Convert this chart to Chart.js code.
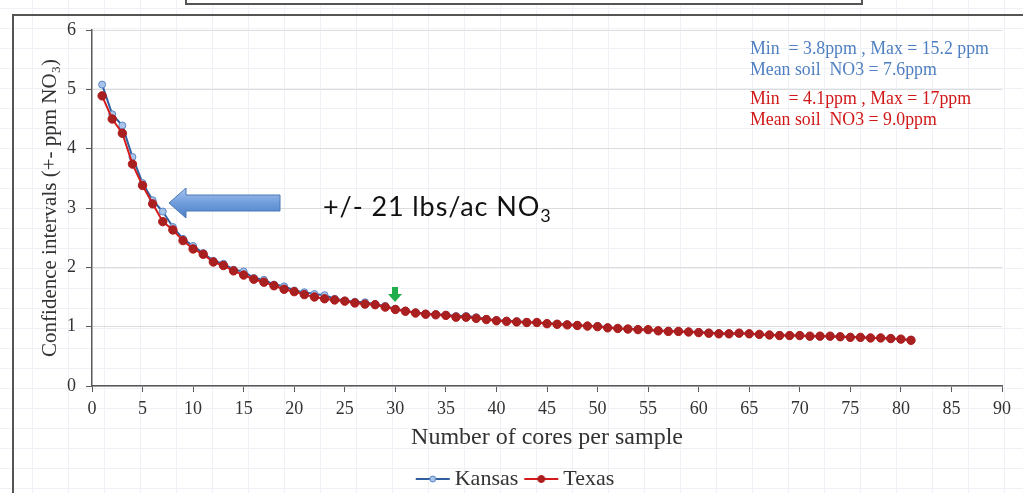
<!DOCTYPE html>
<html>
<head>
<meta charset="utf-8">
<script src="https://cdn.jsdelivr.net/npm/chart.js@4.4.1/dist/chart.umd.min.js"></script>
<style>
  html, body { margin: 0; padding: 0; }
  body {
    width: 1023px; height: 493px; position: relative; overflow: hidden; background: #fff;
    background-image: linear-gradient(#eef1f6 1px, transparent 1px), linear-gradient(90deg, #eef1f6 1px, transparent 1px);
    background-size: 36px 20px;
    background-position: -4px 8px;
  }
  #frame { position: absolute; left: 12px; top: 14px; width: 1030px; height: 500px; border: 2px solid #555; box-sizing: border-box; }
  #titlebox { position: absolute; left: 185px; top: -12px; width: 678px; height: 17px; border: 2px solid #555; box-sizing: border-box; background: #fff; }
  #wrap { position: absolute; left: 0; top: 0; width: 1023px; height: 493px; }
  .note { position: absolute; font-family: "Liberation Serif", serif; font-size: 17.8px; line-height: 21px; white-space: pre; }
  .ks { color: #4f7fc0; left: 750px; top: 38px; }
  .tx { color: #d01818; left: 750px; top: 88px; }
  #big { position: absolute; left: 323px; top: 189px; font-family: Lato, "Open Sans", sans-serif; font-size: 27px; letter-spacing: 0.9px; color: #111; white-space: nowrap; }
  #big sub { font-size: 18px; vertical-align: -6px; }
  svg { position: absolute; left: 0; top: 0; }
</style>
</head>
<body>
<div id="frame"></div>
<div id="titlebox"></div>
<div id="wrap"><canvas id="chart" width="1023" height="493"></canvas></div>

<svg width="1023" height="493">
  <defs>
    <linearGradient id="bl" x1="0" y1="0" x2="0" y2="1">
      <stop offset="0" stop-color="#a9c6ee"/>
      <stop offset="0.5" stop-color="#6f9ddc"/>
      <stop offset="1" stop-color="#4d7fc4"/>
    </linearGradient>
  </defs>
  <polygon points="169,203 186,188 186,195 280,195 280,211 186,211 186,218" fill="url(#bl)" stroke="#4a78b8" stroke-width="1"/>
  <polygon points="392,287 398,287 398,294 402,294 395,302 388,294 392,294" fill="#1fae4a"/>
</svg>

<div class="note ks">Min  = 3.8ppm , Max = 15.2 ppm
Mean soil  NO3 = 7.6ppm</div>
<div class="note tx">Min  = 4.1ppm , Max = 17ppm
Mean soil  NO3 = 9.0ppm</div>
<div id="big">+/- 21 lbs/ac NO<sub>3</sub></div>

<script>
// number of cores per sample (x)
const cores = [1,2,3,4,5,6,7,8,9,10,11,12,13,14,15,16,17,18,19,20,
  21,22,23,24,25,26,27,28,29,30,31,32,33,34,35,36,37,38,39,40,
  41,42,43,44,45,46,47,48,49,50,51,52,53,54,55,56,57,58,59,60,
  61,62,63,64,65,66,67,68,69,70,71,72,73,74,75,76,77,78,79,80,81];

// confidence interval (+- ppm NO3)
const kansas = [5.08,4.58,4.39,3.86,3.42,3.13,2.94,2.68,2.48,2.36,
  2.24,2.11,2.06,1.96,1.93,1.82,1.79,1.71,1.68,1.61,
  1.58,1.55,1.53,1.47,1.44,1.42,1.41,1.38,1.35,1.30,
  1.27,1.24,1.22,1.21,1.20,1.18,1.18,1.16,1.13,1.11,
  1.10,1.09,1.08,1.07,1.06,1.05,1.04,1.03,1.01,1.01,
  0.99,0.97,0.96,0.96,0.95,0.93,0.93,0.92,0.92,0.91,
  0.90,0.89,0.88,0.89,0.88,0.87,0.86,0.86,0.85,0.85,
  0.84,0.84,0.84,0.83,0.83,0.82,0.81,0.81,0.80,0.79,0.78];

const texas = [4.89,4.50,4.26,3.74,3.38,3.07,2.77,2.63,2.45,2.31,
  2.22,2.09,2.03,1.94,1.87,1.80,1.75,1.69,1.63,1.59,
  1.54,1.50,1.47,1.45,1.43,1.40,1.38,1.37,1.33,1.29,
  1.26,1.23,1.21,1.20,1.19,1.16,1.16,1.14,1.12,1.10,
  1.09,1.08,1.07,1.07,1.05,1.04,1.03,1.02,1.01,1.00,
  0.98,0.97,0.96,0.95,0.95,0.93,0.92,0.92,0.91,0.90,
  0.89,0.88,0.88,0.89,0.88,0.87,0.86,0.85,0.85,0.85,
  0.84,0.84,0.84,0.83,0.82,0.82,0.81,0.81,0.80,0.79,0.77];

const seriesNames = ["Kansas", "Texas"];

const KS_LINE = "#2f5f9e", KS_FILL = "#a8c4ea", KS_EDGE = "#5a86c4";
const TX_LINE = "#d41a1a", TX_FILL = "#a82020", TX_EDGE = "#b01818";

// little line+marker image for the legend
function legendMark(line, fill, edge, r) {
  const c = document.createElement("canvas");
  c.width = 36; c.height = 12;
  const g = c.getContext("2d");
  g.strokeStyle = line; g.lineWidth = 2;
  g.beginPath(); g.moveTo(1, 6); g.lineTo(35, 6); g.stroke();
  g.fillStyle = fill; g.strokeStyle = edge; g.lineWidth = 1;
  g.beginPath(); g.arc(18, 6, r, 0, Math.PI * 2); g.fill(); g.stroke();
  return c;
}

const serif = "'Liberation Serif', 'Times New Roman', serif";
const toXY = (arr) => arr.map((v, i) => ({ x: cores[i], y: v }));

new Chart(document.getElementById("chart"), {
  type: "line",
  data: {
    datasets: [
      {
        label: seriesNames[0],
        data: toXY(kansas),
        borderColor: KS_LINE, borderWidth: 2,
        pointBackgroundColor: KS_FILL, pointBorderColor: KS_EDGE, pointBorderWidth: 1,
        pointRadius: 3.5, tension: 0, order: 2,
      },
      {
        label: seriesNames[1],
        data: toXY(texas),
        borderColor: TX_LINE, borderWidth: 2,
        pointBackgroundColor: TX_FILL, pointBorderColor: TX_EDGE, pointBorderWidth: 1,
        pointRadius: 4.2, tension: 0, order: 1,
      },
    ],
  },
  options: {
    responsive: false,
    animation: false,
    layout: { padding: { left: 34, top: 30, right: 21, bottom: -7 } },
    plugins: {
      tooltip: { enabled: false },
      legend: {
        position: "bottom",
        labels: {
          usePointStyle: true,
          color: "#333",
          font: { family: serif, size: 22 },
          padding: 12,
          generateLabels: () => [
            { text: seriesNames[0], pointStyle: legendMark(KS_LINE, KS_FILL, KS_EDGE, 3), datasetIndex: 0, fontColor: "#333" },
            { text: seriesNames[1], pointStyle: legendMark(TX_LINE, TX_FILL, TX_EDGE, 3.5), datasetIndex: 1, fontColor: "#333" },
          ],
        },
      },
    },
    scales: {
      x: {
        type: "linear", min: 0, max: 90,
        afterFit: (s) => { s.height = 70; },
        ticks: { stepSize: 5, color: "#333", padding: 6, font: { family: serif, size: 18 } },
        grid: { drawOnChartArea: false, drawTicks: true, tickLength: 6, tickColor: "#595959" },
        border: { color: "#595959", width: 1.5 },
        title: { display: true, text: "Number of cores per sample", color: "#333", padding: { top: 2, bottom: 4 }, font: { family: serif, size: 24 } },
      },
      y: {
        min: 0, max: 6,
        afterFit: (s) => { s.width = 58; },
        ticks: { stepSize: 1, color: "#333", padding: 10, font: { family: serif, size: 18 } },
        grid: { color: "#dcdcdc", tickColor: "#595959", tickLength: 6 },
        border: { color: "#595959", width: 1.5 },
        title: { display: true, text: "Confidence intervals (+- ppm NO\u2083)", color: "#333", padding: { bottom: 2 }, font: { family: serif, size: 21 } },
      },
    },
  },
});
</script>
</body>
</html>
